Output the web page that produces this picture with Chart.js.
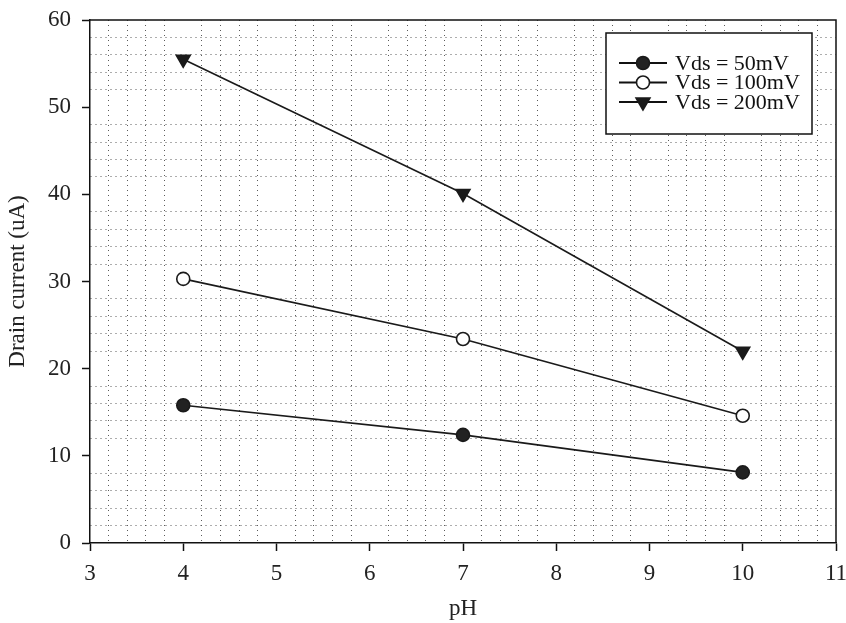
<!DOCTYPE html>
<html>
<head>
<meta charset="utf-8">
<script src="https://cdn.jsdelivr.net/npm/chart.js@4/dist/chart.umd.min.js"></script>
<style>
  html, body { margin: 0; padding: 0; background: #fff; }
  #wrap { width: 846px; height: 623px; }
</style>
</head>
<body>
<div id="wrap"><canvas id="myChart"></canvas></div>
<script>
const phValues = [4, 7, 10];
const current50 = [15.8, 12.4, 8.1];
const current100 = [30.3, 23.4, 14.6];
const current200 = [55.5, 40.1, 22.0];
const seriesLabels = ['Vds = 50mV', 'Vds = 100mV', 'Vds = 200mV'];

const serif = "'Liberation Serif', 'Times New Roman', serif";
const isMajor = (v, step) => Math.abs(v / step - Math.round(v / step)) < 1e-6;

function points(ys) {
    return phValues.map((x, i) => ({ x: x, y: ys[i] }));
}

// frame on top/right plus the boxed legend in the upper right corner
const framePlugin = {
    id: 'frame',
    afterDraw(chart) {
        const ctx = chart.ctx;
        const a = chart.chartArea;
        ctx.save();
        ctx.strokeStyle = '#111';
        ctx.lineWidth = 1.5;
        ctx.beginPath();
        ctx.moveTo(a.left, a.top);
        ctx.lineTo(a.right, a.top);
        ctx.lineTo(a.right, a.bottom);
        ctx.stroke();

        const bx = a.right - 230, by = a.top + 13, bw = 206, bh = 101;
        ctx.fillStyle = '#fff';
        ctx.fillRect(bx, by, bw, bh);
        ctx.lineWidth = 1.5;
        ctx.strokeRect(bx, by, bw, bh);

        chart.data.datasets.forEach((ds, i) => {
            const y = by + 30 + i * 19.5;
            ctx.strokeStyle = '#111';
            ctx.lineWidth = 1.8;
            ctx.beginPath();
            ctx.moveTo(bx + 13, y);
            ctx.lineTo(bx + 61, y);
            ctx.stroke();
            ctx.fillStyle = ds.pointBackgroundColor;
            ctx.strokeStyle = ds.pointBorderColor;
            ctx.lineWidth = ds.pointBorderWidth;
            Chart.helpers.drawPoint(ctx, {
                pointStyle: ds.pointStyle,
                radius: ds.pointRadius,
                rotation: ds.pointRotation || 0,
                borderWidth: ds.pointBorderWidth
            }, bx + 37, y);
            ctx.fillStyle = '#111';
            ctx.font = '22px ' + serif;
            ctx.textBaseline = 'middle';
            ctx.textAlign = 'left';
            ctx.fillText(ds.label, bx + 69, y + 1);
        });
        ctx.restore();
    }
};

const common = {
    borderColor: '#1a1a1a',
    borderWidth: 1.6,
    pointBorderColor: '#1a1a1a',
    pointBorderWidth: 1.6,
    tension: 0
};

new Chart(document.getElementById('myChart'), {
    type: 'line',
    data: {
        datasets: [
            Object.assign({}, common, {
                label: seriesLabels[0],
                data: points(current50),
                pointStyle: 'circle',
                pointRadius: 6.5,
                pointBackgroundColor: '#222'
            }),
            Object.assign({}, common, {
                label: seriesLabels[1],
                data: points(current100),
                pointStyle: 'circle',
                pointRadius: 6.5,
                pointBackgroundColor: '#ffffff'
            }),
            Object.assign({}, common, {
                label: seriesLabels[2],
                data: points(current200),
                pointStyle: 'triangle',
                pointRotation: 180,
                pointRadius: 8,
                pointBackgroundColor: '#1a1a1a'
            })
        ]
    },
    options: {
        responsive: true,
        maintainAspectRatio: false,
        animation: false,
        layout: { padding: { top: 20, right: 10, left: 0, bottom: 0 } },
        plugins: {
            legend: { display: false },
            tooltip: { enabled: false }
        },
        scales: {
            x: {
                type: 'linear',
                min: 3,
                max: 11,
                afterFit(scale) {
                    scale.height = 80;
                    scale.paddingRight = 0;
                    scale.paddingLeft = 0;
                },
                ticks: {
                    stepSize: 0.2,
                    autoSkip: false,
                    maxRotation: 0,
                    padding: 9,
                    color: '#222',
                    font: { family: serif, size: 23 },
                    callback: (v) => isMajor(v, 1) ? String(Math.round(v)) : ''
                },
                grid: {
                    drawOnChartArea: true,
                    tickLength: 8,
                    lineWidth: 1,
                    color: (c) => isMajor(c.tick.value, 1) ? 'rgba(0,0,0,0)' : '#5a5a5a',
                    tickColor: (c) => isMajor(c.tick.value, 1) ? '#111' : 'rgba(0,0,0,0)',
                    tickWidth: 1.5
                },
                border: { color: '#111', width: 1.5, dash: [1, 4] },
                title: {
                    display: true,
                    text: 'pH',
                    color: '#222',
                    font: { family: serif, size: 23 },
                    padding: { top: 0, bottom: 0 }
                }
            },
            y: {
                min: 0,
                max: 60,
                afterFit(scale) {
                    scale.width = 90;
                    scale.paddingTop = 0;
                    scale.paddingBottom = 0;
                },
                ticks: {
                    stepSize: 2,
                    autoSkip: false,
                    padding: 11,
                    color: '#222',
                    font: { family: serif, size: 23 },
                    callback: (v) => isMajor(v, 10) ? String(Math.round(v)) : ''
                },
                grid: {
                    tickLength: 8,
                    lineWidth: 1,
                    color: (c) => isMajor(c.tick.value, 10) ? 'rgba(0,0,0,0)' : '#5a5a5a',
                    tickColor: (c) => isMajor(c.tick.value, 10) ? '#111' : 'rgba(0,0,0,0)',
                    tickWidth: 1.5
                },
                border: { color: '#111', width: 1.5, dash: [1, 4] },
                title: {
                    display: true,
                    text: 'Drain current (uA)',
                    color: '#222',
                    font: { family: serif, size: 23 },
                    padding: { top: 4, bottom: 0 }
                }
            }
        }
    },
    plugins: [framePlugin]
});
</script>
</body>
</html>
